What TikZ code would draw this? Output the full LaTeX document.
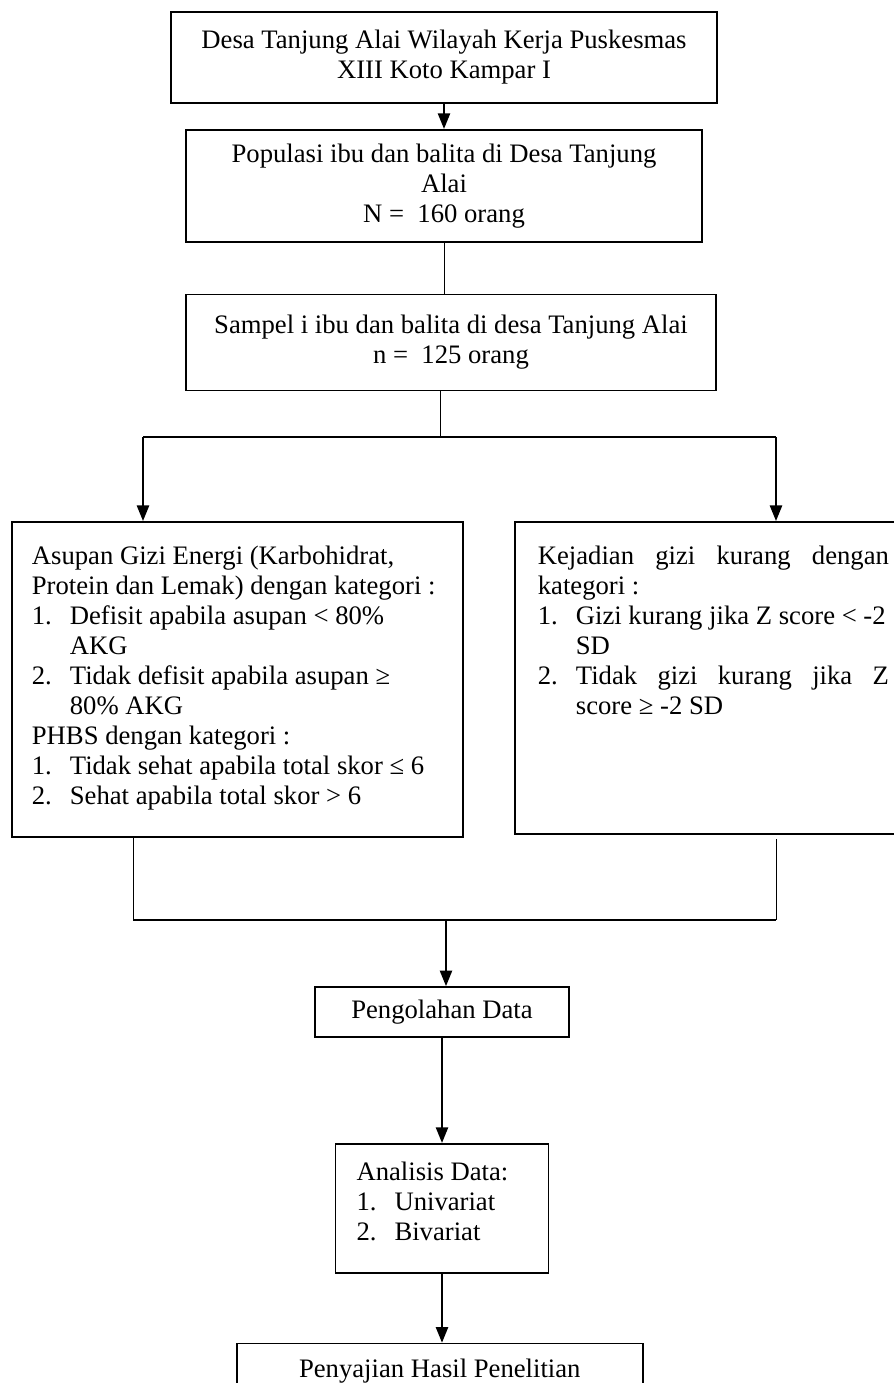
\documentclass[tikz,border=0pt]{standalone}
\usepackage{fontspec}
\setmainfont{Liberation Serif}
\usepackage{tikz}
\usetikzlibrary{arrows.meta,positioning}
\tikzstyle{arrow} = [line width=0.8pt,-{Triangle[length=7pt,width=5.5pt]}]
\tikzstyle{garis} = [line width=0.45pt]
\tikzstyle{kotak} = [rectangle, draw, line width=0.8pt, align=center, font=\fontsize{12}{13.5}\selectfont]
\tikzstyle{kotakisi} = [rectangle, draw, line width=0.8pt, inner sep=0pt, font=\fontsize{12}{13.5}\selectfont]
\newcommand{\nomor}[1]{\makebox[17.1pt][l]{#1}}
\newcommand{\lanjut}{\hspace*{17.1pt}}

\begin{document}
\begin{tikzpicture}[x=0.45pt, y=-0.45pt]
\useasboundingbox (0,0) rectangle (894,1383);
\node[kotak, minimum width=245.7pt, minimum height=40.95pt] (desa) at (444,57.5) {Desa Tanjung Alai Wilayah Kerja Puskesmas\\XIII Koto Kampar I};
\node[kotak, minimum width=232.2pt, minimum height=50.4pt, below=11.25pt of desa] (populasi) {Populasi ibu dan balita di Desa Tanjung\\Alai\\N = \ 160 orang};
\node[kotak, minimum width=238.5pt, minimum height=43.2pt, below=22.95pt of populasi, xshift=3.15pt] (sampel) {Sampel i ibu dan balita di desa Tanjung Alai\\n = \ 125 orang};

\coordinate (cabang) at (440,437);
\coordinate (kiri) at (143,437);
\coordinate (kanan) at (776,437);

\node[kotakisi, minimum width=202.95pt, minimum height=141.75pt, anchor=north west] (asupan) at (11,521) {\parbox[c][141.75pt][t]{184.95pt}{\vspace*{9.9pt}\strut Asupan Gizi Energi (Karbohidrat,\\
Protein dan Lemak) dengan kategori :\\
\nomor{1.}Defisit apabila asupan < 80\%\\
\lanjut AKG\\
\nomor{2.}Tidak defisit apabila asupan ≥\\
\lanjut 80\% AKG\\
PHBS dengan kategori :\\
\nomor{1.}Tidak sehat apabila total skor ≤ 6\\
\nomor{2.}Sehat apabila total skor > 6}};
\node[kotakisi, minimum width=178.65pt, minimum height=140.4pt, anchor=north west] (kejadian) at (514,521) {\parbox[c][140.4pt][t]{157.95pt}{\vspace*{9.9pt}\strut\makebox[\linewidth][s]{Kejadian gizi kurang dengan}\\
kategori :\\
\nomor{1.}Gizi kurang jika Z score < -2\\
\lanjut SD\\
\nomor{2.}\makebox[\dimexpr\linewidth-17.1pt\relax][s]{Tidak gizi kurang jika Z}\\
\lanjut score ≥ -2 SD}};

\coordinate (gabungkiri) at (133,920);
\coordinate (gabungkanan) at (776,920);
\coordinate (gabung) at (446,920);

\node[kotak, minimum width=114.3pt, minimum height=22.5pt] (olah) at (442,1012) {Pengolahan Data};
\node[kotakisi, minimum width=95.85pt, minimum height=58.05pt, below=47.25pt of olah] (analisis) {\parbox[c][58.05pt][t]{76.95pt}{\vspace*{7.2pt}\strut Analisis Data:\\
\nomor{1.}Univariat\\
\nomor{2.}Bivariat}};
\node[kotak, minimum width=182.7pt, minimum height=24.75pt, below=31.05pt of analisis, xshift=-1pt] (sajian) {Penyajian Hasil Penelitian};

\draw[arrow] (desa.south) -- (desa.south |- populasi.north);
\draw[garis] (populasi.south) -- (populasi.south |- sampel.north);
\draw[garis] (sampel.south -| cabang) -- (cabang);
\draw[line width=0.8pt] (kiri) -- (kanan);
\draw[arrow] (kiri) -- (kiri |- asupan.north);
\draw[arrow] (kanan) -- (kanan |- kejadian.north);
\draw[garis] (asupan.south -| gabungkiri) -- (gabungkiri);
\draw[garis, shorten <=2pt] (kejadian.south -| gabungkanan) -- (gabungkanan);
\draw[line width=0.6pt] (gabungkiri) -- (gabungkanan);
\draw[arrow] (gabung) -- (gabung |- olah.north);
\draw[arrow] (olah) -- (analisis);
\draw[arrow] (analisis.south) -- (analisis.south |- sajian.north);
\end{tikzpicture}
\end{document}
